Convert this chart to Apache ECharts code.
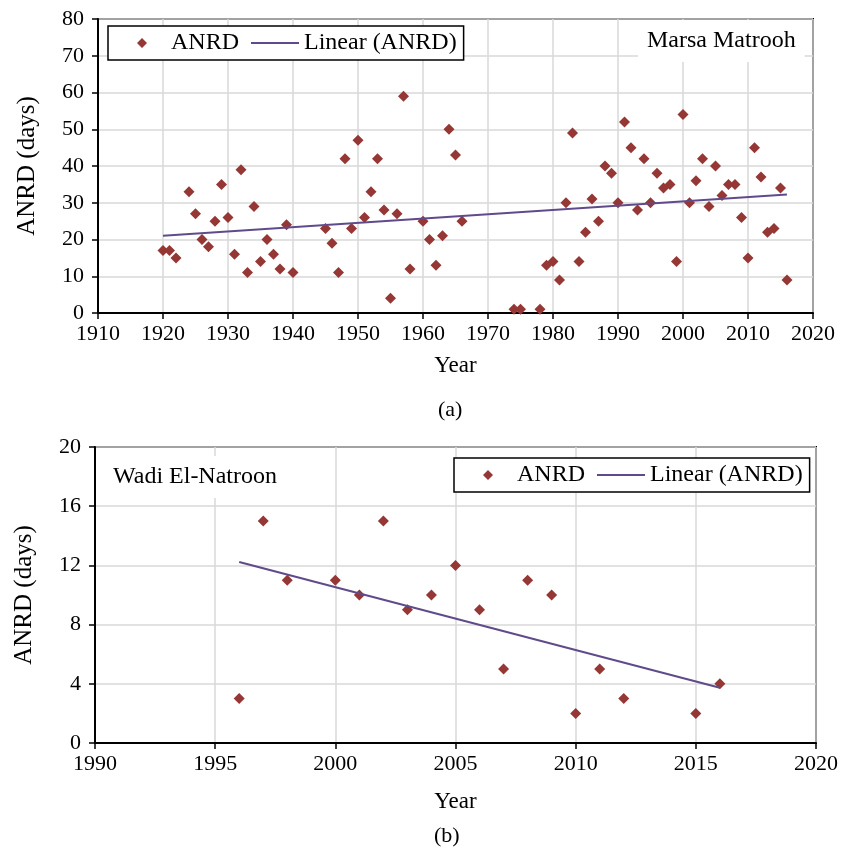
<!DOCTYPE html>
<html>
<head>
<meta charset="utf-8">
<script src="https://cdn.jsdelivr.net/npm/echarts@6/dist/echarts.min.js"></script>
<style>
  html, body { margin: 0; padding: 0; background: #fff; }
  #chart { width: 854px; height: 858px; }
</style>
</head>
<body>
<div id="chart"></div>
<script>
// (a) Marsa Matrooh
const yearsA = [1920, 1921, 1922, 1924, 1925, 1926, 1927, 1928, 1929, 1930,
  1931, 1932, 1933, 1934, 1935, 1936, 1937, 1938, 1939, 1940,
  1945, 1946, 1947, 1948, 1949, 1950, 1951, 1952, 1953, 1954,
  1955, 1956, 1957, 1958, 1960, 1961, 1962, 1963, 1964, 1965, 1966,
  1974, 1975, 1978, 1979, 1980, 1981, 1982, 1983, 1984, 1985,
  1986, 1987, 1988, 1989, 1990, 1991, 1992, 1993, 1994, 1995,
  1996, 1997, 1998, 1999, 2000, 2001, 2002, 2003, 2004, 2005,
  2006, 2007, 2008, 2009, 2010, 2011, 2012, 2013, 2014, 2015, 2016]
const anrdA = [17, 17, 15, 33, 27, 20, 18, 25, 35, 26,
  16, 39, 11, 29, 14, 20, 16, 12, 24, 11,
  23, 19, 11, 42, 23, 47, 26, 33, 42, 28,
  4, 27, 59, 12, 25, 20, 13, 21, 50, 43, 25,
  1, 1, 1, 13, 14, 9, 30, 49, 14, 22,
  31, 25, 40, 38, 30, 52, 45, 28, 42, 30,
  38, 34, 35, 14, 54, 30, 36, 42, 29, 40,
  32, 35, 35, 26, 15, 45, 37, 22, 23, 34, 9]

// (b) Wadi El-Natroon
const yearsB = [1996, 1997, 1998, 2000, 2001, 2002, 2003, 2004, 2005, 2006,
  2007, 2008, 2009, 2010, 2011, 2012, 2015, 2016]
const anrdB = [3, 15, 11, 11, 10, 15, 9, 10, 12, 9,
  5, 11, 10, 2, 5, 3, 2, 4]

const font = 'Liberation Serif, "Times New Roman", serif'
const markColor = '#953735'
const lineColor = '#5f4b8b'

// least squares trend, like the Excel "Linear" trendline
function trend(xs, ys) {
  const n = xs.length
  let sx = 0, sy = 0, sxy = 0, sxx = 0
  for (let i = 0; i < n; i++) {
    sx += xs[i]; sy += ys[i]; sxy += xs[i] * ys[i]; sxx += xs[i] * xs[i]
  }
  const b = (n * sxy - sx * sy) / (n * sxx - sx * sx)
  const a = (sy - b * sx) / n
  const x0 = Math.min(...xs), x1 = Math.max(...xs)
  return [[x0, a + b * x0], [x1, a + b * x1]]
}

const pairs = (xs, ys) => xs.map((x, i) => [x, ys[i]])

function xAxisOf(grid, min, max, interval, gap) {
  return {
    gridIndex: grid, type: 'value', min: min, max: max, interval: interval,
    name: 'Year', nameLocation: 'middle', nameGap: gap,
    nameTextStyle: {fontSize: 23, fontFamily: font, color: '#000'},
    axisLine: {show: true, onZero: false, lineStyle: {color: '#000', width: 2}},
    axisTick: {show: true, length: 6, lineStyle: {color: '#000', width: 1.5}},
    axisLabel: {margin: 10, fontSize: 22, fontFamily: font, color: '#000', formatter: v => String(v)},
    splitLine: {show: true, lineStyle: {color: '#d9d9d9', width: 1.5}}
  }
}

function yAxisOf(grid, max, interval) {
  return {
    gridIndex: grid, type: 'value', min: 0, max: max, interval: interval,
    name: 'ANRD (days)', nameLocation: 'middle', nameGap: 58,
    nameTextStyle: {fontSize: 25, fontFamily: font, color: '#000'},
    axisLine: {show: true, lineStyle: {color: '#000', width: 2}},
    axisTick: {show: true, length: 6, lineStyle: {color: '#000', width: 1.5}},
    axisLabel: {margin: 14, fontSize: 22, fontFamily: font, color: '#000'},
    splitLine: {show: true, lineStyle: {color: '#d9d9d9', width: 1.5}}
  }
}

// legend icons drawn 48x11: a centred diamond, and a thin line
const diamondIcon = 'path://M0,0 L0.01,0 Z M24,0.5 L29,5.5 L24,10.5 L19,5.5 Z M47.99,11 L48,11 Z'
const lineIcon = 'path://M0,0 L48,0 L48,2 L0,2 Z'

function legendOf(left, top) {
  return {
    left: left, top: top, orient: 'horizontal',
    backgroundColor: '#fff', borderColor: '#000', borderWidth: 1.5,
    padding: [5, 7, 5, 10], itemGap: 12, itemWidth: 48, itemHeight: 11,
    symbolKeepAspect: true,
    textStyle: {fontSize: 24, fontFamily: font, color: '#000'},
    data: [
      {name: 'ANRD', icon: diamondIcon},
      {name: 'Linear (ANRD)', icon: lineIcon}
    ]
  }
}

function label(text, left, top, size, bg) {
  return {
    text: text, left: left, top: top,
    backgroundColor: bg ? '#fff' : 'transparent',
    padding: bg ? [9, 9, 9, 9] : 0,
    textStyle: {fontSize: size, fontWeight: 'normal', fontFamily: font, color: '#000'}
  }
}

function dots(xi, xs, ys) {
  return {
    name: 'ANRD', type: 'scatter', xAxisIndex: xi, yAxisIndex: xi,
    symbol: 'diamond', symbolSize: 11,
    itemStyle: {color: markColor, opacity: 1},
    data: pairs(xs, ys)
  }
}

function fit(xi, xs, ys) {
  return {
    name: 'Linear (ANRD)', type: 'line', xAxisIndex: xi, yAxisIndex: xi,
    symbol: 'none', showSymbol: false,
    lineStyle: {color: lineColor, width: 2},
    itemStyle: {color: lineColor},
    data: trend(xs, ys)
  }
}

const chart = echarts.init(document.getElementById('chart'))
chart.setOption({
  animation: false,
  backgroundColor: '#fff',
  title: [
    label('Marsa Matrooh', 638, 20, 24, true),
    label('Wadi El-Natroon', 104, 456, 24, true),
    label('(a)', 438, 399, 22, false),
    label('(b)', 434, 825, 22, false)
  ],
  legend: [legendOf(108, 26), legendOf(454, 458)],
  grid: [
    {left: 98, top: 19, width: 715, height: 294, show: true, borderColor: '#000', borderWidth: 2},
    {left: 95, top: 447, width: 721, height: 296, show: true, borderColor: '#000', borderWidth: 2}
  ],
  xAxis: [xAxisOf(0, 1910, 2020, 10, 41), xAxisOf(1, 1990, 2020, 5, 47)],
  yAxis: [yAxisOf(0, 80, 10), yAxisOf(1, 20, 4)],
  series: [
    dots(0, yearsA, anrdA),
    fit(0, yearsA, anrdA),
    dots(1, yearsB, anrdB),
    fit(1, yearsB, anrdB)
  ]
})
window.addEventListener('resize', () => chart.resize())
</script>
</body>
</html>
